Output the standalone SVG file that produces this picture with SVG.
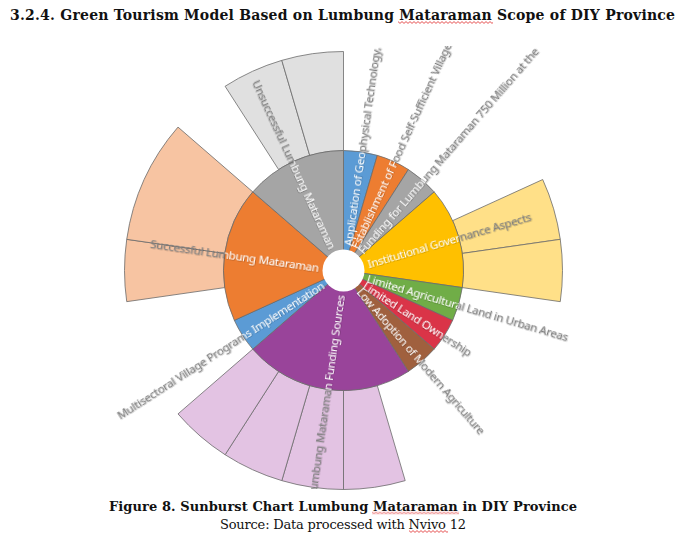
<svg xmlns="http://www.w3.org/2000/svg" width="685" height="542" viewBox="0 0 685 542">
<style>
.seg{stroke:#6b6b6b;stroke-width:0.8;stroke-linejoin:round}
.blue{fill:#5B9BD5}.orange{fill:#ED7D31}.gray{fill:#A5A5A5}.yellow{fill:#FFC000}
.green{fill:#70AD47}.red{fill:#DA3448}.brown{fill:#A0603E}.purple{fill:#99449A}
.lgray{fill:#E0E0E0}.peach{fill:#F7C4A2}.lyellow{fill:#FFE088}.lpurple{fill:#E3C3E3}
.lbl{font-family:"Noto Sans","Open Sans",sans-serif;font-size:11.6px;letter-spacing:-0.3px;fill:url(#lblGrad);dominant-baseline:central;filter:url(#sh)}
.end{text-anchor:end}
.head{font-family:"DejaVu Serif","Liberation Serif",serif;font-weight:bold;fill:#111}
.src{font-family:"DejaVu Serif","Liberation Serif",serif;fill:#111}
</style>
<defs>
<radialGradient id="lblGrad" gradientUnits="userSpaceOnUse" cx="0" cy="0" r="240">
<stop offset="0" stop-color="#fff"/><stop offset="0.5" stop-color="#fff"/>
<stop offset="0.5" stop-color="#808080"/><stop offset="1" stop-color="#808080"/>
</radialGradient>
<filter id="sh" x="-5%" y="-40%" width="110%" height="180%">
<feDropShadow dx="0.6" dy="0.6" stdDeviation="0.5" flood-color="#000" flood-opacity="0.35"/>
</filter>
<clipPath id="crop"><rect x="0" y="46" width="685" height="443"/></clipPath>
<pattern id="squig" patternUnits="userSpaceOnUse" width="4" height="3">
<path d="M0 0.6 L2 2.4 L4 0.6" fill="none" stroke="#E02828" stroke-width="0.8"/>
</pattern>
</defs>
<rect width="685" height="542" fill="#fff"/>
<text class="head" x="342.5" y="19.5" font-size="14" text-anchor="middle" textLength="665" lengthAdjust="spacing">3.2.4. Green Tourism Model Based on Lumbung Mataraman Scope of DIY Province</text>
<g id="chart" transform="translate(343.5 270.5)">
<g id="outer-ring">
<g id="node-unsuccessful-a"><path class="seg lgray" d="M-118.40 -184.23 A219 219 0 0 1 -61.70 -210.13 L-33.81 -115.14 A120 120 0 0 0 -64.88 -100.95 Z"/></g>
<g id="node-unsuccessful-b"><path class="seg lgray" d="M-61.70 -210.13 A219 219 0 0 1 0 -219 L0 -120 A120 120 0 0 0 -33.81 -115.14 Z"/></g>
<g id="node-institutional-a"><path class="seg lyellow" d="M199.21 -90.98 A219 219 0 0 1 216.77 -31.17 L118.78 -17.08 A120 120 0 0 0 109.16 -49.85 Z"/></g>
<g id="node-institutional-b"><path class="seg lyellow" d="M216.77 -31.17 A219 219 0 0 1 216.77 31.17 L118.78 17.08 A120 120 0 0 0 118.78 -17.08 Z"/></g>
<g id="node-funding-a"><path class="seg lpurple" d="M61.70 210.13 A219 219 0 0 1 0 219 L0 120 A120 120 0 0 0 33.81 115.14 Z"/></g>
<g id="node-funding-b"><path class="seg lpurple" d="M0 219 A219 219 0 0 1 -61.70 210.13 L-33.81 115.14 A120 120 0 0 0 0 120 Z"/></g>
<g id="node-funding-c"><path class="seg lpurple" d="M-61.70 210.13 A219 219 0 0 1 -118.40 184.23 L-64.88 100.95 A120 120 0 0 0 -33.81 115.14 Z"/></g>
<g id="node-funding-d"><path class="seg lpurple" d="M-118.40 184.23 A219 219 0 0 1 -165.51 143.41 L-90.69 78.58 A120 120 0 0 0 -64.88 100.95 Z"/></g>
<g id="node-successful-a"><path class="seg peach" d="M-216.77 31.17 A219 219 0 0 1 -216.77 -31.17 L-118.78 -17.08 A120 120 0 0 0 -118.78 17.08 Z"/></g>
<g id="node-successful-b"><path class="seg peach" d="M-216.77 -31.17 A219 219 0 0 1 -165.51 -143.41 L-90.69 -78.58 A120 120 0 0 0 -118.78 -17.08 Z"/></g>
</g>
<g id="inner-ring">
<g id="node-geophysical"><path class="seg blue" d="M0 0 L0 -120 A120 120 0 0 1 33.81 -115.14 Z"/></g>
<g id="node-food-village"><path class="seg orange" d="M0 0 L33.81 -115.14 A120 120 0 0 1 64.88 -100.95 Z"/></g>
<g id="node-funding-750"><path class="seg gray" d="M0 0 L64.88 -100.95 A120 120 0 0 1 90.69 -78.58 Z"/></g>
<g id="node-institutional"><path class="seg yellow" d="M0 0 L90.69 -78.58 A120 120 0 0 1 118.78 17.08 Z"/></g>
<g id="node-agricultural-land"><path class="seg green" d="M0 0 L118.78 17.08 A120 120 0 0 1 109.16 49.85 Z"/></g>
<g id="node-land-ownership"><path class="seg red" d="M0 0 L109.16 49.85 A120 120 0 0 1 90.69 78.58 Z"/></g>
<g id="node-modern-agriculture"><path class="seg brown" d="M0 0 L90.69 78.58 A120 120 0 0 1 64.88 100.95 Z"/></g>
<g id="node-funding-sources"><path class="seg purple" d="M0 0 L64.88 100.95 A120 120 0 0 1 -90.69 78.58 Z"/></g>
<g id="node-multisectoral"><path class="seg blue" d="M0 0 L-90.69 78.58 A120 120 0 0 1 -109.16 49.85 Z"/></g>
<g id="node-successful"><path class="seg orange" d="M0 0 L-109.16 49.85 A120 120 0 0 1 -90.69 -78.58 Z"/></g>
<g id="node-unsuccessful"><path class="seg gray" d="M0 0 L-90.69 -78.58 A120 120 0 0 1 0 -120 Z"/></g>
</g>
<circle id="hole" r="21" fill="#fff"/>
</g>
<g id="labels" clip-path="url(#crop)">
<g transform="translate(343.5 270.5)">
<text id="label-geophysical" class="lbl" transform="rotate(-81.82)" x="25" y="0">Application of Geophysical Technology,</text>
<text id="label-food-village" class="lbl" transform="rotate(-65.45)" x="25" y="0">Establishment of Food Self-Sufficient Village</text>
<text id="label-funding-750" class="lbl" transform="rotate(-49.09)" x="25" y="0">Funding for Lumbung Mataraman 750 Million at the</text>
<text id="label-institutional" class="lbl" transform="rotate(-16.36)" x="25" y="0">Institutional Governance Aspects</text>
<text id="label-agricultural-land" class="lbl" transform="rotate(16.36)" x="25" y="0">Limited Agricultural Land in Urban Areas</text>
<text id="label-land-ownership" class="lbl" transform="rotate(32.73)" x="25" y="0">Limited Land Ownership</text>
<text id="label-modern-agriculture" class="lbl" transform="rotate(49.09)" x="25" y="0">Low Adoption of Modern Agriculture</text>
<text id="label-funding-sources" class="lbl end" transform="rotate(-81.82)" x="-25" y="0">Lumbung Mataraman Funding Sources</text>
<text id="label-multisectoral" class="lbl end" transform="rotate(-32.73)" x="-25" y="0">Multisectoral Village Programs Implementation</text>
<text id="label-successful" class="lbl end" transform="rotate(8.18)" x="-25" y="0">Successful Lumbung Mataraman</text>
<text id="label-unsuccessful" class="lbl end" transform="rotate(65.45)" x="-25" y="0">Unsuccessful Lumbung Mataraman</text>
</g>
</g>
<text class="head" x="343" y="510.7" font-size="13" text-anchor="middle" textLength="468" lengthAdjust="spacing">Figure 8. Sunburst Chart Lumbung Mataraman in DIY Province</text>
<text class="src" x="343" y="529.3" font-size="13" text-anchor="middle" textLength="246" lengthAdjust="spacing">Source: Data processed with Nvivo 12</text>
<g id="spell-marks">
<g transform="translate(398 21)"><rect width="95" height="3" fill="url(#squig)"/></g>
<g transform="translate(372 511.5)"><rect width="87" height="3" fill="url(#squig)"/></g>
<g transform="translate(409 530)"><rect width="39" height="3" fill="url(#squig)"/></g>
</g>
</svg>
